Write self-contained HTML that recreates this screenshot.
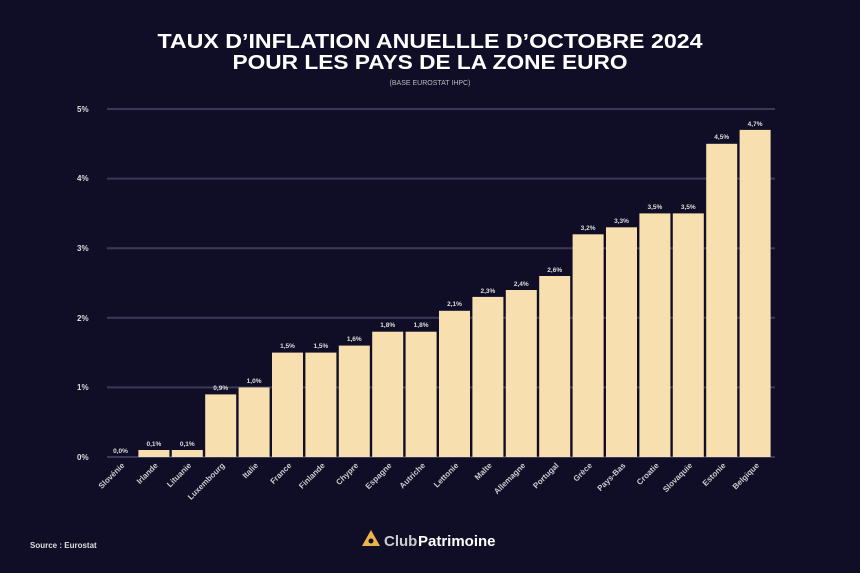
<!DOCTYPE html>
<html><head><meta charset="utf-8"><style>
html,body{margin:0;padding:0;background:#100e27;}
svg{display:block;font-family:"Liberation Sans",sans-serif;}
</style></head><body>
<svg width="860" height="573" viewBox="0 0 860 573">
<rect width="860" height="573" fill="#100e27"/>
<text x="430" y="48" text-anchor="middle" fill="#fff" font-weight="bold" font-size="20" textLength="545" lengthAdjust="spacingAndGlyphs">TAUX D’INFLATION ANUELLLE D’OCTOBRE 2024</text>
<text x="430" y="69" text-anchor="middle" fill="#fff" font-weight="bold" font-size="20" textLength="395" lengthAdjust="spacingAndGlyphs">POUR LES PAYS DE LA ZONE EURO</text>
<text x="430" y="85" text-anchor="middle" fill="#bbb" font-size="7">(BASE EUROSTAT IHPC)</text>
<g stroke="#3a3858" stroke-width="2">
<line x1="107" y1="109" x2="775" y2="109"/>
<line x1="107" y1="178.6" x2="775" y2="178.6"/>
<line x1="107" y1="248.2" x2="775" y2="248.2"/>
<line x1="107" y1="317.8" x2="775" y2="317.8"/>
<line x1="107" y1="387.4" x2="775" y2="387.4"/>
<line x1="107" y1="457" x2="775" y2="457"/>
</g>
<g fill="#ddd" font-size="8" font-weight="bold">
<text x="77" y="112">5%</text><text x="77" y="181">4%</text><text x="77" y="251">3%</text>
<text x="77" y="321">2%</text><text x="77" y="390">1%</text><text x="77" y="460">0%</text>
</g>
<g fill="#f8dfb0">
<rect x="138.4" y="450" width="31" height="7"/>
<rect x="171.8" y="450" width="31" height="7"/>
<rect x="205.2" y="394.4" width="31" height="62.6"/>
<rect x="238.6" y="387.4" width="31" height="69.6"/>
<rect x="272" y="352.6" width="31" height="104.4"/>
<rect x="305.4" y="352.6" width="31" height="104.4"/>
<rect x="338.8" y="345.6" width="31" height="111.4"/>
<rect x="372.2" y="331.7" width="31" height="125.3"/>
<rect x="405.6" y="331.7" width="31" height="125.3"/>
<rect x="439" y="310.8" width="31" height="146.2"/>
<rect x="472.4" y="296.9" width="31" height="160.1"/>
<rect x="505.8" y="290" width="31" height="167"/>
<rect x="539.2" y="276" width="31" height="181"/>
<rect x="572.6" y="234.3" width="31" height="222.7"/>
<rect x="606" y="227.3" width="31" height="229.7"/>
<rect x="639.4" y="213.4" width="31" height="243.6"/>
<rect x="672.8" y="213.4" width="31" height="243.6"/>
<rect x="706.2" y="143.8" width="31" height="313.2"/>
<rect x="739.6" y="129.9" width="31" height="327.1"/>
</g>
<g fill="#ddd" font-size="6.5" font-weight="bold" text-anchor="middle">
<text x="120.5" y="453">0,0%</text>
<text x="153.9" y="446">0,1%</text>
<text x="187.3" y="446">0,1%</text>
<text x="220.7" y="390">0,9%</text>
<text x="254.1" y="383">1,0%</text>
<text x="287.5" y="348">1,5%</text>
<text x="320.9" y="348">1,5%</text>
<text x="354.3" y="341">1,6%</text>
<text x="387.7" y="327">1,8%</text>
<text x="421.1" y="327">1,8%</text>
<text x="454.5" y="306">2,1%</text>
<text x="487.9" y="293">2,3%</text>
<text x="521.3" y="286">2,4%</text>
<text x="554.7" y="272">2,6%</text>
<text x="588.1" y="230">3,2%</text>
<text x="621.5" y="223">3,3%</text>
<text x="654.9" y="209">3,5%</text>
<text x="688.3" y="209">3,5%</text>
<text x="721.7" y="139">4,5%</text>
<text x="755.1" y="126">4,7%</text>
</g>
<g fill="#ccc" font-size="8" font-weight="bold" text-anchor="end">
<text transform="translate(125,466) rotate(-45)">Slovénie</text>
<text transform="translate(158.4,466) rotate(-45)">Irlande</text>
<text transform="translate(191.8,466) rotate(-45)">Lituanie</text>
<text transform="translate(225.2,466) rotate(-45)">Luxembourg</text>
<text transform="translate(258.6,466) rotate(-45)">Italie</text>
<text transform="translate(292,466) rotate(-45)">France</text>
<text transform="translate(325.4,466) rotate(-45)">Finlande</text>
<text transform="translate(358.8,466) rotate(-45)">Chypre</text>
<text transform="translate(392.2,466) rotate(-45)">Espagne</text>
<text transform="translate(425.6,466) rotate(-45)">Autriche</text>
<text transform="translate(459,466) rotate(-45)">Lettonie</text>
<text transform="translate(492.4,466) rotate(-45)">Malte</text>
<text transform="translate(525.8,466) rotate(-45)">Allemagne</text>
<text transform="translate(559.2,466) rotate(-45)">Portugal</text>
<text transform="translate(592.6,466) rotate(-45)">Grèce</text>
<text transform="translate(626,466) rotate(-45)">Pays-Bas</text>
<text transform="translate(659.4,466) rotate(-45)">Croatie</text>
<text transform="translate(692.8,466) rotate(-45)">Slovaquie</text>
<text transform="translate(726.2,466) rotate(-45)">Estonie</text>
<text transform="translate(759.6,466) rotate(-45)">Belgique</text>
</g>
<text x="30" y="548" fill="#ddd" font-size="8" font-weight="bold">Source : Eurostat</text>
<polygon points="371,530 362,546 380,546" fill="#e9b54a"/>
<circle cx="371" cy="541" r="2.5" fill="#100e27"/>
<text x="384" y="546" fill="#ccc" font-size="15" font-weight="bold">Club</text>
<text x="418" y="546" fill="#fff" font-size="15" font-weight="bold">Patrimoine</text>
</svg>
</body></html>
